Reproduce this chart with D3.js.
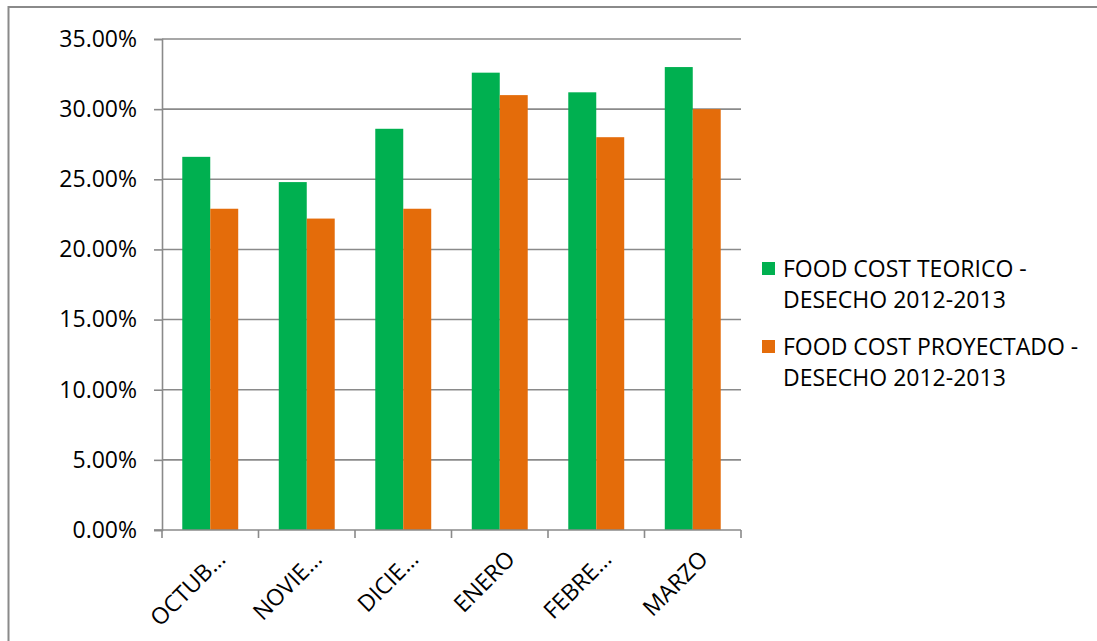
<!DOCTYPE html>
<html>
<head>
<meta charset="utf-8">
<script src="https://cdn.jsdelivr.net/npm/d3@7"></script>
<style>
  html, body { margin: 0; padding: 0; background: #fff; }
  svg { display: block; font-family: "Open Sans", "Noto Sans", sans-serif; }
</style>
</head>
<body>
<svg id="chart" width="1097" height="641"></svg>
<script>
// Months of the 2012-2013 period (truncated as shown on the axis)
const categories = ["OCTUB…", "NOVIE…", "DICIE…", "ENERO", "FEBRE…", "MARZO"];

// Series names (legend, two lines each)
const seriesNames = [
  ["FOOD COST TEORICO -", "DESECHO 2012-2013"],
  ["FOOD COST PROYECTADO -", "DESECHO 2012-2013"]
];

// Food cost theoretical vs projected (fractions)
const teorico    = [0.266, 0.248, 0.286, 0.326, 0.312, 0.330];
const proyectado = [0.229, 0.222, 0.229, 0.310, 0.280, 0.300];

// Y axis ticks
const yTicks = [0, 0.05, 0.10, 0.15, 0.20, 0.25, 0.30, 0.35];

const colors = ["#00B050", "#E46C0A"];
const gridColor = "#8a8a8a";

const svg = d3.select("#chart");
const W = 1097, H = 641;
const plot = { left: 162, right: 741, top: 39, bottom: 530 };

// Outer chart frame
svg.append("rect")
  .attr("x", 8.5).attr("y", 7)
  .attr("width", W + 20).attr("height", H + 20)
  .attr("fill", "none")
  .attr("stroke", gridColor)
  .attr("stroke-width", 2);

const y = d3.scaleLinear().domain([0, 0.35]).range([plot.bottom, plot.top]);
const x = d3.scaleBand().domain(categories).range([plot.left, plot.right]).padding(0);
const series = ["teorico", "proyectado"];
const xs = d3.scaleBand().domain(series).range([0, x.bandwidth()])
  .paddingInner(0).paddingOuter(0.725);

// Horizontal gridlines
svg.append("g").selectAll("line")
  .data(yTicks.filter(t => t > 0))
  .join("line")
  .attr("x1", plot.left).attr("x2", plot.right)
  .attr("y1", d => y(d)).attr("y2", d => y(d))
  .attr("stroke", gridColor).attr("stroke-width", 1.6);

// Bars
const rows = categories.map((c, i) => ({ cat: c, teorico: teorico[i], proyectado: proyectado[i] }));
const groups = svg.append("g").selectAll("g")
  .data(rows).join("g")
  .attr("transform", d => `translate(${x(d.cat)},0)`);
groups.selectAll("rect")
  .data(d => series.map((s, k) => ({ s, k, v: d[s] })))
  .join("rect")
  .attr("x", d => xs(d.s))
  .attr("width", xs.bandwidth())
  .attr("y", d => y(d.v))
  .attr("height", d => y(0) - y(d.v))
  .attr("fill", d => colors[d.k]);

// Y axis
const yAxis = d3.axisLeft(y).tickValues(yTicks).tickFormat(d3.format(".2%"))
  .tickSize(8).tickPadding(17);
const gy = svg.append("g").attr("transform", `translate(${plot.left},0)`).call(yAxis);
gy.select(".domain").attr("stroke", gridColor).attr("stroke-width", 1.6);
gy.selectAll(".tick line").attr("stroke", gridColor).attr("stroke-width", 1.6);
gy.selectAll(".tick text")
  .attr("fill", "#000").attr("font-size", 23)
  .attr("font-family", "'Open Sans', sans-serif");

// X axis line with tick marks at category boundaries
const gx = svg.append("g");
gx.append("line")
  .attr("x1", plot.left - 8).attr("x2", plot.right)
  .attr("y1", y(0)).attr("y2", y(0))
  .attr("stroke", gridColor).attr("stroke-width", 1.6);
const bounds = categories.map(c => x(c)).concat([x.range()[1]]);
gx.selectAll("line.tk")
  .data(bounds).join("line").attr("class", "tk")
  .attr("x1", d => d).attr("x2", d => d)
  .attr("y1", y(0)).attr("y2", y(0) + 8)
  .attr("stroke", gridColor).attr("stroke-width", 1.6);

// Rotated category labels
gx.selectAll("text")
  .data(categories).join("text")
  .attr("transform", d => `translate(${x(d) + x.bandwidth() / 2 + 11},${y(0) + 25}) rotate(-45)`)
  .attr("text-anchor", "end")
  .attr("dy", "0.35em")
  .attr("font-size", 23)
  .attr("fill", "#000")
  .text(d => d);

// Legend
const legend = svg.append("g");
const legendTop = [262, 340];
seriesNames.forEach((lines, k) => {
  legend.append("rect")
    .attr("x", 762).attr("y", legendTop[k])
    .attr("width", 13).attr("height", 13)
    .attr("fill", colors[k]);
  const t = legend.append("text")
    .attr("x", 783).attr("y", legendTop[k] + 15)
    .attr("font-size", 23).attr("fill", "#000");
  lines.forEach((ln, j) => {
    t.append("tspan").attr("x", 783).attr("dy", j === 0 ? 0 : 31).text(ln);
  });
});
</script>
</body>
</html>
